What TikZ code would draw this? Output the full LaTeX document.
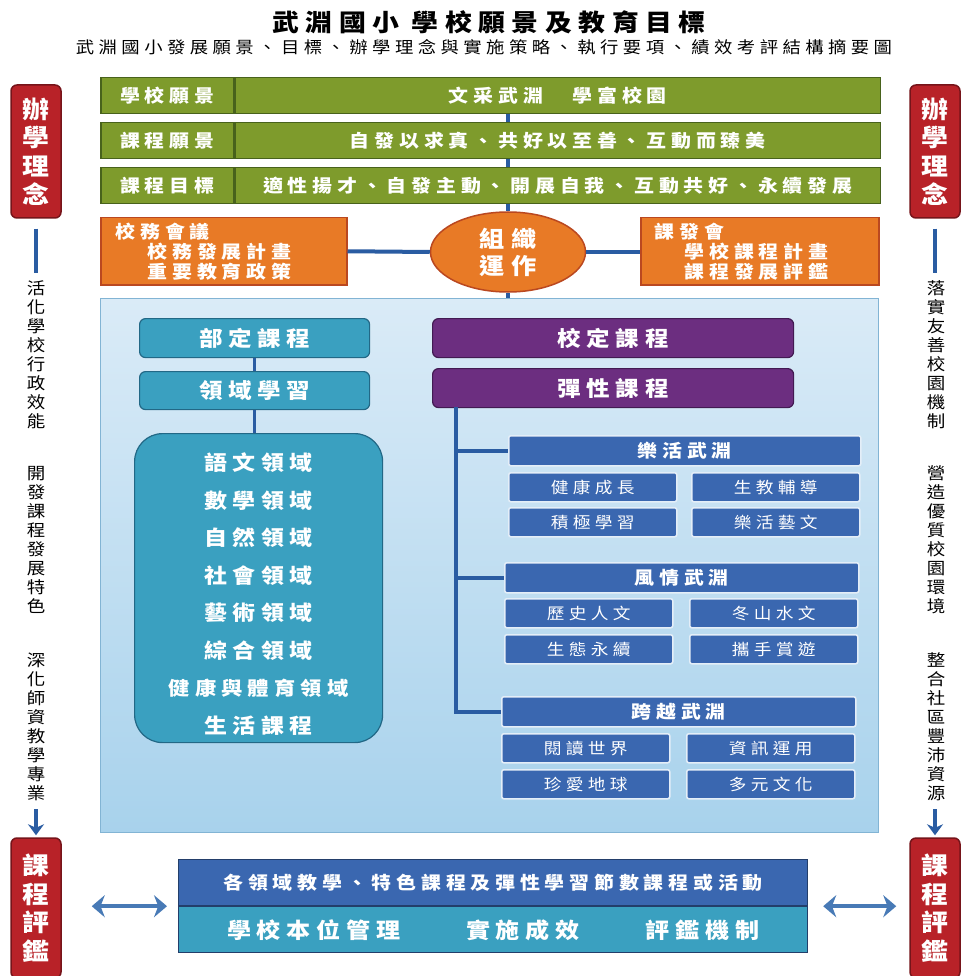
\documentclass[tikz,border=0pt]{standalone}
\usepackage{fontspec}
\newfontfamily\cjk[FakeStretch=1.12, LetterSpace=27]{Noto Sans CJK TC}
\newfontfamily\cjkv[FakeStretch=1.12]{Noto Sans CJK TC}
\usetikzlibrary{arrows.meta,shapes.geometric}

\definecolor{barGreen}{RGB}{126,155,44}
\definecolor{barEdge}{RGB}{72,98,28}
\definecolor{orgOrange}{RGB}{232,122,38}
\definecolor{orgEdge}{RGB}{186,72,32}
\definecolor{tagRed}{RGB}{184,34,40}
\definecolor{tagEdge}{RGB}{118,20,26}
\definecolor{lineBlue}{RGB}{42,92,162}
\definecolor{panelTop}{RGB}{218,235,247}
\definecolor{panelBot}{RGB}{168,210,236}
\definecolor{panelEdge}{RGB}{130,180,212}
\definecolor{tealBox}{RGB}{58,160,192}
\definecolor{tealEdge}{RGB}{34,104,134}
\definecolor{purpleBox}{RGB}{108,46,128}
\definecolor{purpleEdge}{RGB}{66,26,82}
\definecolor{blueBox}{RGB}{58,103,176}
\definecolor{blueGlow}{RGB}{228,238,248}
\definecolor{arrowBlue}{RGB}{72,122,182}

\tikzset{
  box/.style={anchor=north west, inner sep=0pt, text=white, align=center},
  greenbar/.style={box, draw=barEdge, fill=barGreen, line width=1.5pt, minimum height=36pt,
    font=\cjk\bfseries\fontsize{17.8}{19}\selectfont},
  orgbox/.style={box, draw=orgEdge, fill=orgOrange, line width=1.5pt, minimum height=67pt,
    align=left, font=\cjk\bfseries\fontsize{17.8}{20}\selectfont},
  tagbox/.style={draw=tagEdge, fill=tagRed, line width=1.5pt, rounded corners=6pt,
    minimum width=50pt, inner sep=0pt, text=white, align=center,
    font=\cjkv\bfseries\fontsize{24}{28.5}\selectfont},
  sidetext/.style={align=center, inner sep=0pt, font=\cjkv\fontsize{16.5}{19}\selectfont},
  tealbox/.style={box, draw=tealEdge, fill=tealBox, line width=1.2pt, rounded corners=6pt,
    font=\cjk\bfseries\fontsize{21}{23}\selectfont},
  purplebox/.style={box, draw=purpleEdge, fill=purpleBox, line width=1.2pt, rounded corners=6pt,
    minimum width=361pt, minimum height=39pt, font=\cjk\bfseries\fontsize{21}{23}\selectfont},
  bluehead/.style={box, draw=blueGlow, fill=blueBox, line width=1.5pt, rounded corners=2pt,
    minimum height=30pt, font=\cjk\bfseries\fontsize{17.8}{19}\selectfont},
  bluecell/.style={box, draw=blueGlow, fill=blueBox, line width=1.5pt, rounded corners=2pt,
    minimum width=168pt, minimum height=29pt, font=\cjk\fontsize{15.8}{17}\selectfont},
  link/.style={draw=lineBlue, line width=4pt},
  twoway/.style={draw=arrowBlue, line width=4.5pt,
    {Stealth[length=13pt,width=22pt]}-{Stealth[length=13pt,width=22pt]}},
}

\begin{document}
\begin{tikzpicture}[x=1pt, y=-1pt]
  \useasboundingbox (0,0) rectangle (966,976);
  \fill[white] (0,0) rectangle (966,976);

  % Title
  \node[font=\cjk\bfseries\fontsize{24}{26}\selectfont] (title) at (489,22) {武淵國小 學校願景及教育目標};
  \node[font=\cjk\fontsize{16.4}{18}\selectfont] (subtitle) at (484,47)
    {武淵國小發展願景、目標、辦學理念與實施策略、執行要項、績效考評結構摘要圖};

  % Vision bars
  \node[greenbar, minimum width=133pt] (visL) at (100,77) {學校願景};
  \node[greenbar, minimum width=645pt] (vis) at (visL.north east) {文采武淵　學富校園};
  \node[greenbar, minimum width=133pt] (curVL) at (100,122) {課程願景};
  \node[greenbar, minimum width=645pt] (curV) at (curVL.north east) {自發以求真、共好以至善、互動而臻美};
  \node[greenbar, minimum width=133pt] (curGL) at (100,167) {課程目標};
  \node[greenbar, minimum width=645pt] (curG) at (curGL.north east) {適性揚才、自發主動、開展自我、互動共好、永續發展};

  % Meetings
  \node[orgbox, minimum width=246pt, text width=216pt, inner xsep=15pt] (mtgL) at (100,217)
    {校務會議\\\hspace*{32pt}校務發展計畫\\\hspace*{32pt}重要教育政策};
  \node[orgbox, minimum width=238pt, text width=210pt, inner xsep=14pt] (mtgR) at (640,217)
    {課發會\\\hspace*{30pt}學校課程計畫\\\hspace*{30pt}課程發展評鑑};
  \node[ellipse, draw=orgEdge, fill=orgOrange, line width=1.5pt, minimum width=155pt, minimum height=80pt,
    inner sep=0pt, text=white, align=center, font=\cjk\bfseries\fontsize{22.5}{27}\selectfont] (org) at (508,252) {組織\\運作};

  \draw[link] (org |- vis.south) -- (org |- curV.north);
  \draw[link] (org |- curV.south) -- (org |- curG.north);
  \draw[link] (org |- curG.south) -- (org.north);
  \draw[link] (mtgL.east) -- (org.west);
  \draw[link] (org.east) -- (org.east -| mtgR.west);

  % Curriculum panel
  \node[box, minimum width=778pt, minimum height=534pt, top color=panelTop, bottom color=panelBot,
    draw=panelEdge, line width=1.2pt] (panel) at (100,298) {};
  \draw[link] (org.south) -- (org |- panel.north);

  \node[tealbox, minimum width=230pt, minimum height=39pt] (bd) at (139,318) {部定課程};
  \node[tealbox, minimum width=230pt, minimum height=38pt] (ly) at (139,371) {領域學習};
  \node[tealbox, minimum width=248pt, minimum height=309pt, rounded corners=28pt,
    font=\cjk\bfseries\fontsize{20.5}{37.5}\selectfont] (subj) at (134,433)
    {\rule{0pt}{30pt}語文領域\\數學領域\\自然領域\\社會領域\\藝術領域\\綜合領域\\{\fontsize{19}{37.5}\selectfont 健康與體育領域}\\生活課程};
  \draw[link, line width=3.5pt] (bd.south) -- (ly.north);
  \draw[link, line width=3.5pt] (ly.south) -- (ly.south |- subj.north);

  \node[purplebox] (sd) at (432,318) {校定課程};
  \node[purplebox] (tx) at (432,368) {彈性課程};

  \node[bluehead, minimum width=352pt] (hdJoy) at (508,435) {樂活武淵};
  \node[bluecell] (cHealth) at (508,472) {健康成長};
  \node[bluecell] (cGuide) at (691,472) {生教輔導};
  \node[bluecell] (cActive) at (508,507) {積極學習};
  \node[bluecell] (cArts) at (691,507) {樂活藝文};

  \node[bluehead, minimum width=354pt] (hdLocal) at (504,562) {風情武淵};
  \node[bluecell] (cHistory) at (504,598) {歷史人文};
  \node[bluecell] (cWater) at (689,598) {冬山水文};
  \node[bluecell] (cEco) at (504,634) {生態永續};
  \node[bluecell] (cTour) at (689,634) {攜手賞遊};

  \node[bluehead, minimum width=354pt] (hdBeyond) at (501,696) {跨越武淵};
  \node[bluecell] (cRead) at (501,733) {閱讀世界};
  \node[bluecell] (cInfo) at (686,733) {資訊運用};
  \node[bluecell] (cEarth) at (501,769) {珍愛地球};
  \node[bluecell] (cCulture) at (686,769) {多元文化};

  \coordinate (trunk) at (456,407);
  \draw[link] (trunk) |- (hdBeyond.west);
  \draw[link] (trunk |- hdJoy.west) -- (hdJoy.west);
  \draw[link] (trunk |- hdLocal.west) -- (hdLocal.west);

  % Side columns
  \node[tagbox, minimum height=133pt] (tagTL) at (36,151.5) {辦\\學\\理\\念};
  \node[tagbox, minimum height=140pt] (tagBL) at (36,908) {課\\程\\評\\鑑};
  \node[tagbox, minimum height=133pt] (tagTR) at (935,151.5) {辦\\學\\理\\念};
  \node[tagbox, minimum height=140pt] (tagBR) at (935,908) {課\\程\\評\\鑑};

  \node[sidetext] (sideL1) at (36,355) {活\\化\\學\\校\\行\\政\\效\\能};
  \node[sidetext] (sideL2) at (36,540) {開\\發\\課\\程\\發\\展\\特\\色};
  \node[sidetext] (sideL3) at (36,727) {深\\化\\師\\資\\教\\學\\專\\業};
  \node[sidetext] (sideR1) at (936,355) {落\\實\\友\\善\\校\\園\\機\\制};
  \node[sidetext] (sideR2) at (936,540) {營\\造\\優\\質\\校\\園\\環\\境};
  \node[sidetext] (sideR3) at (936,727) {整\\合\\社\\區\\豐\\沛\\資\\源};

  \draw[link] ([yshift=-10pt]tagTL.south) -- ([yshift=8pt]tagTL.south |- sideL1.north);
  \draw[link] ([yshift=-10pt]tagTR.south) -- ([yshift=8pt]tagTR.south |- sideR1.north);
  \draw[link, -{Stealth[length=11pt,width=16pt]}] ([yshift=-8pt]tagBL.north |- sideL3.south) -- ([yshift=2pt]tagBL.north);
  \draw[link, -{Stealth[length=11pt,width=16pt]}] ([yshift=-8pt]tagBR.north |- sideR3.south) -- ([yshift=2pt]tagBR.north);

  % Evaluation
  \node[box, draw=blueBox!60!black, fill=blueBox, line width=1.2pt, minimum width=629pt, minimum height=46pt,
    font=\cjk\bfseries\fontsize{17.8}{19}\selectfont] (taskT) at (178,859) {各領域教學、特色課程及彈性學習節數課程或活動};
  \node[box, draw=blueBox!60!black, fill=tealBox, line width=1.2pt, minimum width=629pt, minimum height=46pt,
    font=\cjk\bfseries\fontsize{21.5}{23}\selectfont] (taskB) at (taskT.south west) {學校本位管理　　實施成效　　評鑑機制};

  \draw[twoway, shorten <=30pt, shorten >=11pt] (tagBL.east |- taskT.south) -- (taskT.south west);
  \draw[twoway, shorten <=15pt, shorten >=13pt] (taskT.south east) -- (tagBR.west |- taskT.south);
\end{tikzpicture}
\end{document}
